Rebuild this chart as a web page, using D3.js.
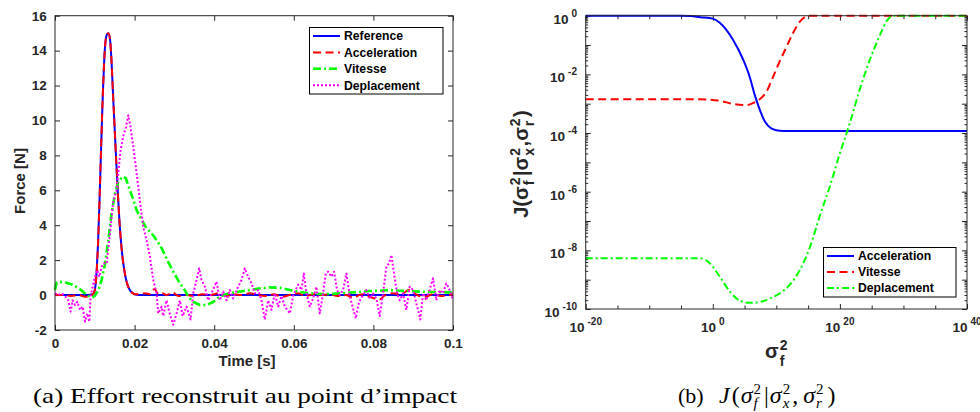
<!DOCTYPE html>
<html><head><meta charset="utf-8">
<script src="https://cdn.jsdelivr.net/npm/d3@7"></script>
<style>body{margin:0;background:#fff}svg{display:block}</style>
</head><body><svg id="c" width="980" height="412"></svg>
<script>
// ---------- (a) force vs time ----------
const refTime = [0, 0.008, 0.0095, 0.0099, 0.0102, 0.0105, 0.0108, 0.0111, 0.0114, 0.0117, 0.0120, 0.0123, 0.0126, 0.0130, 0.0134, 0.0138, 0.0142, 0.0146, 0.0150, 0.0154, 0.0158, 0.0162, 0.0166, 0.0170, 0.0174, 0.0178, 0.0182, 0.0186, 0.0190, 0.0195, 0.0200, 0.0210, 0.1];
const refForce = [0, 0, 0.05, 0.2, 0.6, 1.5, 2.9, 4.8, 7.0, 9.3, 11.4, 13.1, 14.3, 14.9, 15.0, 14.7, 13.4, 11.4, 9.5, 7.6, 5.8, 4.2, 3.0, 2.1, 1.45, 0.95, 0.6, 0.38, 0.22, 0.12, 0.05, 0.01, 0];

const accTime = [0, 0.002, 0.004, 0.006, 0.0075, 0.0085, 0.0095, 0.0099, 0.0102, 0.0105, 0.0108, 0.0111, 0.0114, 0.0117, 0.0120, 0.0123, 0.0126, 0.0130, 0.0134, 0.0138, 0.0142, 0.0146, 0.0150, 0.0154, 0.0158, 0.0162, 0.0166, 0.0170, 0.0174, 0.0178, 0.0182, 0.0186, 0.0190, 0.0195, 0.0200, 0.021, 0.0225, 0.024, 0.025, 0.026, 0.027, 0.028, 0.0295, 0.031, 0.033, 0.035, 0.037, 0.039, 0.041, 0.043, 0.045, 0.047, 0.049, 0.051, 0.053, 0.055, 0.057, 0.059, 0.061, 0.063, 0.065, 0.067, 0.069, 0.071, 0.073, 0.075, 0.077, 0.079, 0.0815, 0.083, 0.085, 0.087, 0.089, 0.091, 0.093, 0.095, 0.097, 0.1];
const accForce = [0, 0, -0.05, 0, -0.1, -0.1, 0.05, 0.2, 0.6, 1.5, 2.9, 4.8, 7.0, 9.3, 11.4, 13.1, 14.3, 14.9, 15.0, 14.7, 13.4, 11.4, 9.5, 7.6, 5.8, 4.2, 3.0, 2.1, 1.45, 0.95, 0.6, 0.38, 0.22, 0.12, 0.05, 0.05, 0.1, 0.05, 0.35, 0.05, 0.1, 0.0, 0.15, -0.05, 0.0, -0.05, 0.05, 0.0, 0.1, -0.05, 0.05, 0.0, 0.1, 0.0, -0.05, 0.05, -0.1, 0.0, 0.1, -0.05, 0.05, 0.0, 0.05, -0.05, 0.0, -0.15, 0.05, -0.1, -0.25, 0.0, 0.1, 0.05, 0.3, 0.0, -0.1, 0.05, -0.05, 0.05];

const vitTime = [0, 0.0004, 0.0008, 0.0029, 0.0046, 0.0063, 0.0080, 0.0092, 0.0100, 0.0109, 0.0117, 0.0126, 0.0134, 0.0142, 0.0151, 0.0159, 0.0170, 0.0178, 0.0188, 0.0197, 0.0205, 0.0218, 0.0230, 0.0243, 0.0255, 0.0268, 0.0280, 0.0297, 0.0314, 0.0326, 0.0335, 0.0347, 0.0364, 0.0381, 0.0398, 0.0414, 0.0431, 0.0448, 0.0464, 0.0490, 0.0515, 0.0540, 0.0565, 0.0590, 0.0615, 0.0640, 0.0665, 0.0690, 0.0716, 0.0741, 0.0766, 0.0791, 0.0816, 0.0841, 0.0866, 0.0891, 0.0916, 0.0941, 0.0967, 0.1];
const vitForce = [0.3, 0.7, 0.77, 0.71, 0.58, 0.33, 0.0, -0.15, -0.05, 0.29, 0.86, 1.82, 3.15, 4.68, 5.83, 6.49, 6.78, 6.69, 6.02, 5.44, 4.87, 4.3, 3.82, 3.54, 3.15, 2.68, 2.1, 1.34, 0.67, 0.29, -0.09, -0.38, -0.57, -0.57, -0.38, -0.09, 0.06, 0.14, 0.2, 0.29, 0.39, 0.44, 0.42, 0.29, 0.18, 0.1, 0.06, 0.06, 0.1, 0.14, 0.18, 0.23, 0.25, 0.29, 0.25, 0.23, 0.2, 0.18, 0.18, 0.14];

const depTime = [0, 0.00084, 0.00167, 0.00251, 0.00335, 0.00393, 0.00444, 0.00502, 0.00561, 0.00628, 0.00695, 0.00753, 0.00812, 0.00862, 0.00895, 0.00946, 0.01004, 0.01063, 0.01113, 0.01172, 0.0123, 0.01297, 0.01381, 0.01464, 0.01548, 0.0159, 0.01648, 0.01715, 0.01782, 0.01841, 0.019, 0.01966, 0.0205, 0.02134, 0.02218, 0.02301, 0.02385, 0.02469, 0.02552, 0.02594, 0.02678, 0.0272, 0.02803, 0.02887, 0.02971, 0.03054, 0.03138, 0.03205, 0.03305, 0.03406, 0.03473, 0.03556, 0.03623, 0.03682, 0.03766, 0.03849, 0.03933, 0.04059, 0.04142, 0.04226, 0.0431, 0.04393, 0.04477, 0.04602, 0.04686, 0.0477, 0.04853, 0.04937, 0.05021, 0.05104, 0.05188, 0.05272, 0.05356, 0.05439, 0.05523, 0.05607, 0.0569, 0.05774, 0.059, 0.05983, 0.06109, 0.06192, 0.06251, 0.06318, 0.06402, 0.06485, 0.06569, 0.06653, 0.06736, 0.06803, 0.06862, 0.06945, 0.07012, 0.07088, 0.07155, 0.07238, 0.07322, 0.07406, 0.07489, 0.07556, 0.0764, 0.07724, 0.07824, 0.07908, 0.07991, 0.08075, 0.08159, 0.08242, 0.08326, 0.08393, 0.08452, 0.08518, 0.08594, 0.08661, 0.08744, 0.08828, 0.08912, 0.08996, 0.09079, 0.0918, 0.09247, 0.0933, 0.09414, 0.09498, 0.09581, 0.09665, 0.09749, 0.09832, 0.09916, 0.1];
const depForce = [0.1, 0, 0.1, -0.05, -0.3, -0.95, -0.3, -0.57, -0.38, -0.85, -0.66, -1.52, -1.05, -1.52, -0.05, 0.48, 1.05, 1.43, 1.05, 1.63, 1.82, 1.8, 3.5, 5.4, 6.0, 7.0, 8.3, 9.1, 9.6, 10.3, 9.6, 8.5, 7.0, 5.4, 3.9, 3.15, 2.2, 0.86, 0.1, -1.05, -0.66, -1.2, -0.3, -1.1, -1.7, -1.05, -0.3, -1.2, -0.66, -1.4, 0.1, 0.86, 1.53, 0.86, 0.48, -0.3, 0.1, 0.77, -0.3, 0.2, -0.3, 0.29, -0.2, 0.48, 0.86, 1.53, 1.05, 0.67, 0.1, 0.29, -0.3, -1.4, -0.3, -0.85, 0.1, -0.66, -0.05, -0.66, -1.05, -0.05, 0.6, 0.29, 1.24, 0.1, -0.66, -0.2, 0.48, -1.05, 0.1, 1.24, 1.34, 1.05, 1.34, 0.29, 0, 0.29, 1.24, -0.05, -0.76, -1.33, -0.38, -0.05, 0.29, -0.2, 0.1, -0.2, -1.2, 0.1, 1.63, 1.82, 2.3, 1.24, 0.1, -0.3, 0.1, -0.85, 0.48, 0.29, -0.47, -1.4, 0.1, -0.3, 0.29, 0.96, -0.3, 0.29, 0.1, 0.67, 0.29, -0.3];

const timeTicks = [0, 0.02, 0.04, 0.06, 0.08, 0.1];
const forceTicks = [-2, 0, 2, 4, 6, 8, 10, 12, 14, 16];
const legendA = ["Reference", "Acceleration", "Vitesse", "Deplacement"];

// ---------- (b) J(sigma_f^2) on log-log axes (log10 values) ----------
const accDec = [-20, -5, -3.5, -2, 0, 1.1, 3.2, 4.8, 5.8, 6.6, 7.4, 8.2, 9.2, 10.5, 12, 40];
const accLog = [0, 0, -0.01, -0.05, -0.1, -0.24, -0.83, -1.51, -2.08, -2.7, -3.21, -3.61, -3.84, -3.92, -3.93, -3.93];
const vitDec = [-20, -2, 1.1, 3.2, 5.3, 6.3, 7.4, 8.45, 9.5, 10.5, 11.6, 12.6, 13.7, 14.5, 15.3, 40];
const vitLog = [-2.85, -2.85, -2.9, -3.01, -3.05, -2.98, -2.85, -2.59, -2.08, -1.57, -1.06, -0.6, -0.2, -0.05, 0, 0];
const depDec = [-20, -2, -0.46, 1.1, 2.7, 4.3, 5.85, 7.4, 9.0, 10.5, 12.1, 13.7, 15.3, 16.8, 18.4, 20, 21.55, 23.1, 24.7, 26.3, 27.3, 28.4, 40];
const depLog = [-8.27, -8.27, -8.44, -8.9, -9.41, -9.72, -9.79, -9.76, -9.64, -9.47, -9.18, -8.67, -7.88, -6.85, -5.83, -4.69, -3.67, -2.53, -1.51, -0.66, -0.2, 0, 0];
const sigmaTickExp = [-20, 0, 20, 40];
const jTickExp = [0, -2, -4, -6, -8, -10];
const legendB = ["Acceleration", "Vitesse", "Deplacement"];

// ---------- drawing ----------
const svg = d3.select("#c");
const AX = "#262626";
const FONT = "'Liberation Sans', Arial, Helvetica, sans-serif";
const SERIF = "'Liberation Serif', 'Times New Roman', serif";

const styles = {
  blue: {stroke: "#0000ff", dash: null, w: 2},
  red: {stroke: "#ff0000", dash: "8,4.5", w: 2},
  greenA: {stroke: "#00ff00", dash: "8,3,2,3", w: 2.6},
  magenta: {stroke: "#ff00ff", dash: "2,2", w: 2},
  green: {stroke: "#00ff00", dash: "7,3,2,3", w: 2}
};

function styleAxis(g, showText) {
  g.select(".domain").remove();
  g.selectAll("line").attr("stroke", AX).attr("stroke-width", 1);
  g.selectAll("text").attr("fill", AX).attr("font-family", FONT).attr("font-weight", "bold").attr("font-size", 13.5);
  if (!showText) g.selectAll("text").remove();
}

// Panel A
const xA = d3.scaleLinear().domain([0, 0.1]).range([55, 453]);
const yA = d3.scaleLinear().domain([-2, 16]).range([330, 15.7]);
const gA = svg.append("g");

gA.append("g").attr("transform", `translate(0,${yA(-2)})`)
  .call(d3.axisBottom(xA).tickValues(timeTicks).tickSize(-5).tickSizeOuter(0).tickPadding(8.4).tickFormat(d => String(d)))
  .call(g => styleAxis(g, true));
gA.append("g").attr("transform", `translate(0,${yA(16)})`)
  .call(d3.axisTop(xA).tickValues(timeTicks).tickSize(-5).tickSizeOuter(0))
  .call(g => styleAxis(g, false));
gA.append("g").attr("transform", `translate(${xA(0)},0)`)
  .call(d3.axisLeft(yA).tickValues(forceTicks).tickSize(-5).tickSizeOuter(0).tickPadding(8.3).tickFormat(d => String(d)))
  .call(g => styleAxis(g, true));
gA.append("g").attr("transform", `translate(${xA(0.1)},0)`)
  .call(d3.axisRight(yA).tickValues(forceTicks).tickSize(-5).tickSizeOuter(0))
  .call(g => styleAxis(g, false));

const lineA = d3.line().x(d => xA(d[0])).y(d => yA(d[1]));
const lineAs = d3.line().x(d => xA(d[0])).y(d => yA(d[1])).curve(d3.curveMonotoneX);
function drawPath(g, gen, data, st) {
  const p = g.append("path").datum(data).attr("d", gen).attr("fill", "none")
    .attr("stroke", st.stroke).attr("stroke-width", st.w).attr("stroke-linejoin", "round");
  if (st.dash) p.attr("stroke-dasharray", st.dash);
  return p;
}
drawPath(gA, lineAs, d3.zip(refTime, refForce), styles.blue);
drawPath(gA, lineAs, d3.zip(accTime, accForce), styles.red);
drawPath(gA, lineA, d3.zip(vitTime, vitForce), styles.greenA);
drawPath(gA, lineA, d3.zip(depTime, depForce), styles.magenta);

gA.append("rect").attr("x", xA(0)).attr("y", yA(16)).attr("width", xA(0.1) - xA(0)).attr("height", yA(-2) - yA(16))
  .attr("fill", "none").attr("stroke", AX).attr("stroke-width", 1);

// Legend A
const legA = gA.append("g");
legA.append("rect").attr("x", 309.5).attr("y", 27.5).attr("width", 133.5).attr("height", 66.5)
  .attr("fill", "#fff").attr("stroke", "#000").attr("stroke-width", 1);
const legAStyles = [styles.blue, styles.red, styles.greenA, styles.magenta];
legendA.forEach((name, i) => {
  const cy = 36 + i * 16.4;
  const st = legAStyles[i];
  const l = legA.append("line").attr("x1", 313).attr("x2", 340).attr("y1", cy).attr("y2", cy)
    .attr("stroke", st.stroke).attr("stroke-width", st.w);
  if (st.dash) l.attr("stroke-dasharray", st.dash);
  legA.append("text").attr("x", 344).attr("y", cy + 4.3).text(name)
    .attr("font-family", FONT).attr("font-weight", "bold").attr("font-size", 12.2).attr("fill", "#000");
});

// Axis labels A
svg.append("text").attr("transform", "translate(25,181) rotate(-90)").attr("text-anchor", "middle")
  .attr("font-family", FONT).attr("font-weight", "bold").attr("font-size", 15).attr("fill", AX).text("Force [N]");
svg.append("text").attr("x", 247).attr("y", 366).attr("text-anchor", "middle")
  .attr("font-family", FONT).attr("font-weight", "bold").attr("font-size", 15).attr("fill", AX).text("Time [s]");

// Panel B
const xB = d3.scaleLog().domain([1e-20, 1e40]).range([585.7, 967]);
const yB = d3.scaleLog().domain([1e-10, 1]).range([309, 15.7]);
const gB = svg.append("g");

const xMajor = sigmaTickExp.map(e => 10 ** e);
const xMinor = d3.range(-20, 41, 5).filter(e => !sigmaTickExp.includes(e)).map(e => 10 ** e);
const yMajor = d3.range(-10, 1, 1).map(e => 10 ** e);
const yMinor = [];
for (let e = -10; e < 0; e++) for (let m = 2; m <= 9; m++) yMinor.push(m * 10 ** e);

function tickSet(axisFn, scale, values, size, transform) {
  gB.append("g").attr("transform", transform)
    .call(axisFn(scale).tickValues(values).tickSize(size).tickSizeOuter(0).tickFormat(""))
    .call(g => styleAxis(g, false));
}
tickSet(d3.axisBottom, xB, xMajor, -5, `translate(0,${yB(1e-10)})`);
tickSet(d3.axisBottom, xB, xMinor, -3.5, `translate(0,${yB(1e-10)})`);
tickSet(d3.axisTop, xB, xMajor, -5, `translate(0,${yB(1)})`);
tickSet(d3.axisTop, xB, xMinor, -3.5, `translate(0,${yB(1)})`);
tickSet(d3.axisLeft, yB, yMajor, -5, `translate(${xB(1e-20)},0)`);
tickSet(d3.axisLeft, yB, yMinor, -2.5, `translate(${xB(1e-20)},0)`);
tickSet(d3.axisRight, yB, yMajor, -5, `translate(${xB(1e40)},0)`);
tickSet(d3.axisRight, yB, yMinor, -2.5, `translate(${xB(1e40)},0)`);

const lineB = d3.line().x(d => xB(10 ** d[0])).y(d => yB(10 ** d[1])).curve(d3.curveMonotoneX);
drawPath(gB, lineB, d3.zip(accDec, accLog), styles.blue);
drawPath(gB, lineB, d3.zip(vitDec, vitLog), styles.red);
drawPath(gB, lineB, d3.zip(depDec, depLog), styles.green);

gB.append("rect").attr("x", xB(1e-20)).attr("y", yB(1)).attr("width", xB(1e40) - xB(1e-20)).attr("height", yB(1e-10) - yB(1))
  .attr("fill", "none").attr("stroke", AX).attr("stroke-width", 1);

// log tick labels
jTickExp.forEach(e => {
  const t = gB.append("text").attr("x", 577).attr("y", yB(10 ** e) + 8).attr("text-anchor", "end")
    .attr("font-family", FONT).attr("font-weight", "bold").attr("font-size", 13.5).attr("fill", AX);
  t.append("tspan").text("10");
  t.append("tspan").attr("dx", 3).attr("dy", -7).attr("font-size", 10).text(String(e));
});
sigmaTickExp.forEach(e => {
  const t = gB.append("text").attr("x", xB(10 ** e)).attr("y", 332).attr("text-anchor", "middle")
    .attr("font-family", FONT).attr("font-weight", "bold").attr("font-size", 13.5).attr("fill", AX);
  t.append("tspan").text("10");
  t.append("tspan").attr("dx", 3).attr("dy", -7).attr("font-size", 10).text(String(e));
});

// Legend B
const legB = gB.append("g");
legB.append("rect").attr("x", 823.5).attr("y", 247.5).attr("width", 132.5).attr("height", 49.5)
  .attr("fill", "#fff").attr("stroke", "#000").attr("stroke-width", 1);
const legBStyles = [styles.blue, styles.red, styles.green];
legendB.forEach((name, i) => {
  const cy = 256 + i * 16;
  const st = legBStyles[i];
  const l = legB.append("line").attr("x1", 827).attr("x2", 854).attr("y1", cy).attr("y2", cy)
    .attr("stroke", st.stroke).attr("stroke-width", st.w);
  if (st.dash) l.attr("stroke-dasharray", st.dash);
  legB.append("text").attr("x", 858).attr("y", cy + 4.3).text(name)
    .attr("font-family", FONT).attr("font-weight", "bold").attr("font-size", 12.2).attr("fill", "#000");
});

// scripted text helper: parts = [{t, it, dx}] or [{sup, sub, it}]
function scripted(textSel, parts, main, small, up, down, gap) {
  let off = 0, extra = 0;
  parts.forEach(p => {
    if (p.t !== undefined) {
      const s = textSel.append("tspan").attr("font-size", main).text(p.t);
      if (p.it) s.attr("font-style", "italic");
      if (off !== 0) s.attr("dy", -off);
      const dx = extra + (p.dx || 0);
      if (dx !== 0) s.attr("dx", dx);
      off = 0; extra = 0;
    } else {
      const a = textSel.append("tspan").attr("font-size", small).attr("dy", -up - off).attr("dx", 1).text(p.sup);
      const wSup = a.node().getComputedTextLength();
      const b = textSel.append("tspan").attr("font-size", small).attr("dx", -wSup).attr("dy", up + down).text(p.sub);
      if (p.it) b.attr("font-style", "italic");
      const wSub = b.node().getComputedTextLength();
      off = down;
      extra = Math.max(0, wSup - wSub) + (gap || 0);
    }
  });
}

// y label B
const yl = svg.append("text").attr("transform", "translate(528,164) rotate(-90)").attr("text-anchor", "middle")
  .attr("font-family", FONT).attr("font-weight", "bold").attr("fill", AX);
scripted(yl, [{t: "J("}, {t: "σ"}, {sup: "2", sub: "f"}, {t: "|"}, {t: "σ"}, {sup: "2", sub: "x"}, {t: ","}, {t: "σ"}, {sup: "2", sub: "r"}, {t: ")"}], 20, 14, 8, 6, 1.5);

// x label B
const xl = svg.append("text").attr("x", 765).attr("y", 358)
  .attr("font-family", FONT).attr("font-weight", "bold").attr("fill", AX);
scripted(xl, [{t: "σ"}, {sup: "2", sub: "f"}], 20, 14, 8, 8, 0);

// captions
svg.append("text").attr("x", 33).attr("y", 403).attr("textLength", 424).attr("lengthAdjust", "spacingAndGlyphs")
  .attr("font-family", SERIF).attr("font-size", 22).attr("fill", "#000").text("(a) Effort reconstruit au point d\u2019impact");
svg.append("text").attr("x", 678).attr("y", 403).attr("font-family", SERIF).attr("font-size", 22)
  .attr("fill", "#000").text("(b)");
const cb = svg.append("text").attr("x", 719).attr("y", 403).attr("font-family", SERIF).attr("fill", "#000");
scripted(cb, [{t: "J", it: true}, {t: "(", dx: 2}, {t: "σ", it: true, dx: 1}, {sup: "2", sub: "f", it: true}, {t: "|", dx: 1}, {t: "σ", it: true, dx: 1}, {sup: "2", sub: "x", it: true}, {t: ","}, {t: "σ", it: true, dx: 5}, {sup: "2", sub: "r", it: true}, {t: ")", dx: 2}], 24, 15, 9, 5, 2);
</script>
</body></html>
